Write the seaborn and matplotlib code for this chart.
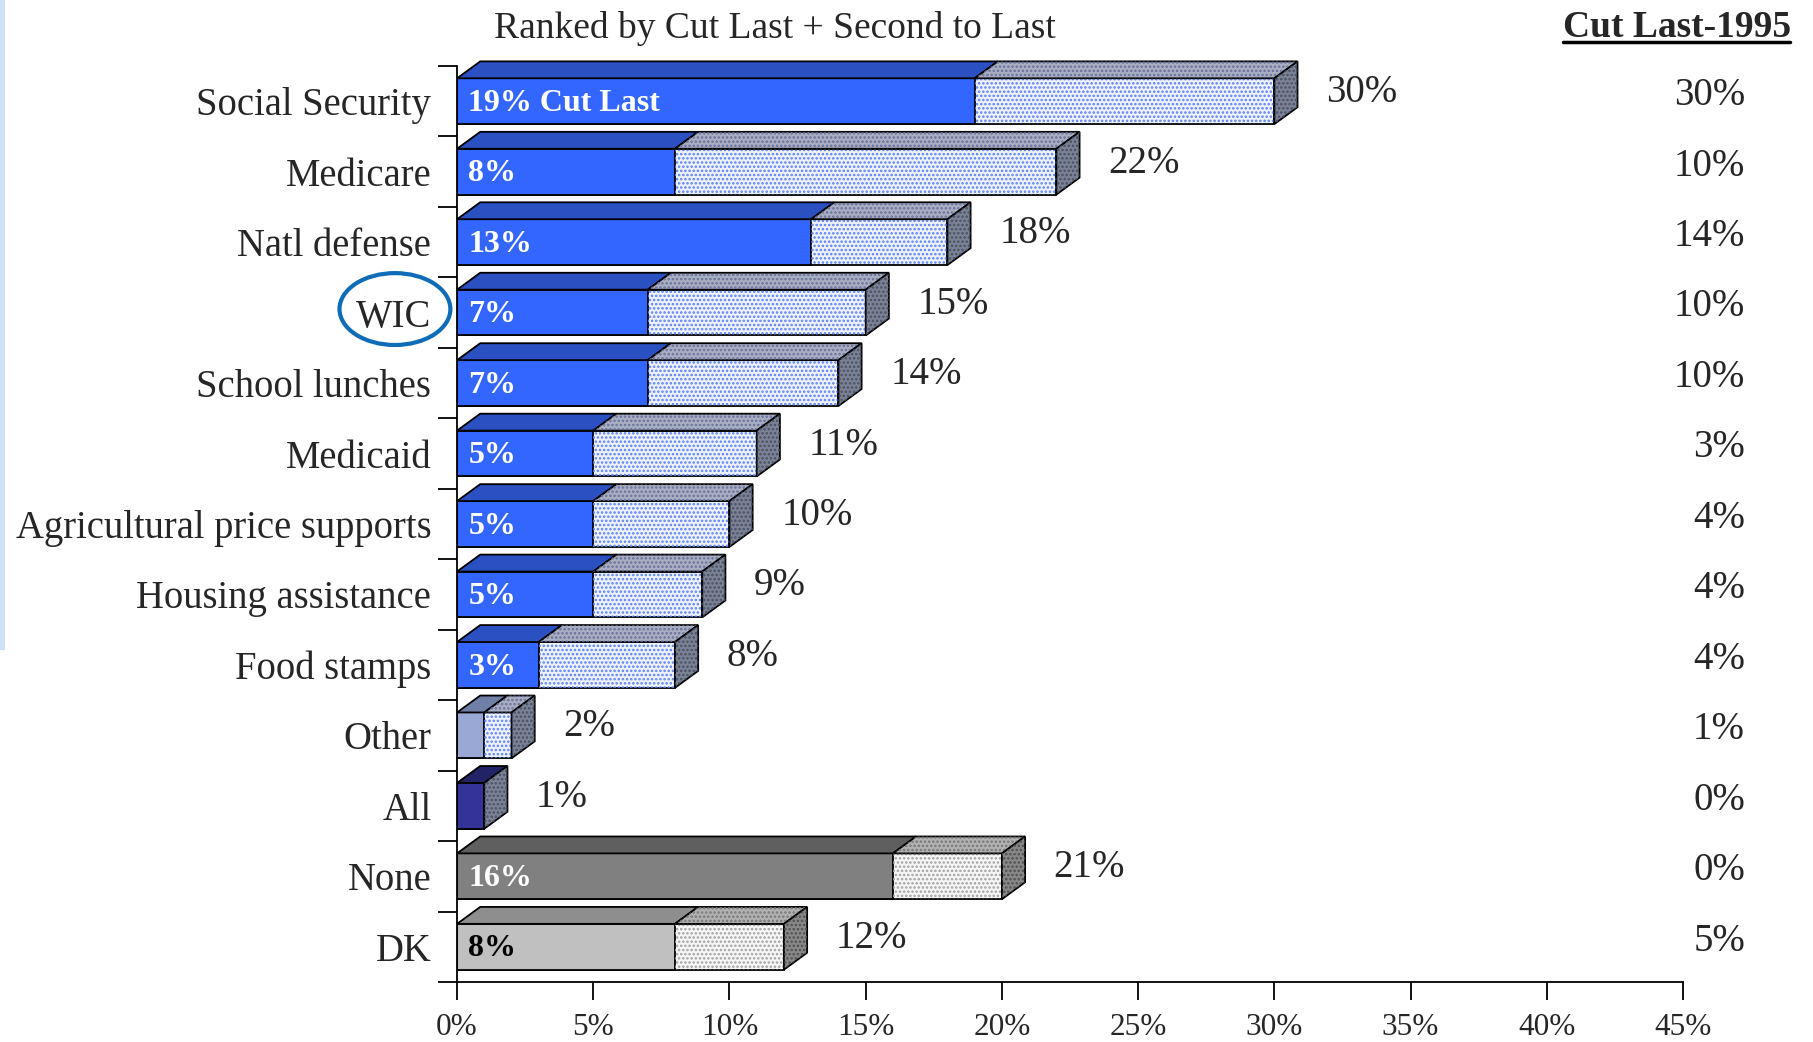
import matplotlib
matplotlib.use('Agg')
import matplotlib.pyplot as plt
import matplotlib.transforms as mtrans
from matplotlib.patches import Polygon, Rectangle, Ellipse
from matplotlib.lines import Line2D
import pandas as pd
import seaborn as sns

# data
categories = ['Social Security', 'Medicare', 'Natl defense', 'WIC', 'School lunches',
              'Medicaid', 'Agricultural price supports', 'Housing assistance',
              'Food stamps', 'Other', 'All', 'None', 'DK']
cut_last = [19, 8, 13, 7, 7, 5, 5, 5, 3, 1, 1, 16, 8]
second_to_last = [11, 14, 5, 8, 7, 6, 5, 4, 5, 1, 0, 4, 4]
total_labels = ['30%', '22%', '18%', '15%', '14%', '11%', '10%', '9%', '8%',
                '2%', '1%', '21%', '12%']
inner_labels = ['19% Cut Last', '8%', '13%', '7%', '7%', '5%', '5%', '5%', '3%',
                '', '', '16%', '8%']
cut_last_1995 = ['30%', '10%', '14%', '10%', '10%', '3%', '4%', '4%', '4%',
                 '1%', '0%', '0%', '5%']
xticks = [0, 5, 10, 15, 20, 25, 30, 35, 40, 45]

# colours per row
blue, blue_top = '#3366ff', '#2a50c2'
front_col = [blue] * 9 + ['#99a8d4', '#333399', '#808080', '#c0c0c0']
top_col = [blue_top] * 9 + ['#6f7fa8', '#222266', '#5f5f5f', '#8e8e8e']
grey_rows = {'None', 'DK'}
label_col = ['white'] * 12 + ['black']

df = pd.DataFrame({'cat': categories, 'cut': cut_last,
                   'total': [a + b for a, b in zip(cut_last, second_to_last)]})

sns.set_style('white')
plt.rcParams['font.family'] = ['Liberation Serif', 'DejaVu Serif']
plt.rcParams['hatch.linewidth'] = 1.2

fig = plt.figure(figsize=(18.13, 10.42), dpi=100)
ax = fig.add_axes([0.2521, 0.0576, 0.6762, 0.8791])

light_pal = {c: ('#f6f6f6' if c in grey_rows else '#eef2ff') for c in categories}
sns.barplot(data=df, y='cat', x='total', hue='cat', palette=light_pal, orient='h',
            width=0.65, saturation=1, edgecolor='black', linewidth=1.3,
            legend=False, ax=ax)
tot_patches = sorted(ax.patches, key=lambda p: p.get_y())
n0 = len(ax.patches)
sns.barplot(data=df, y='cat', x='cut', hue='cat',
            palette=dict(zip(categories, front_col)), orient='h',
            width=0.65, saturation=1, edgecolor='black', linewidth=1.3,
            legend=False, ax=ax)
cut_patches = sorted(ax.patches[n0:], key=lambda p: p.get_y())

dx, dy = 0.85, 0.24


def face(verts, base, dots=None, z=2):
    ax.add_patch(Polygon(verts, closed=True, facecolor=base, edgecolor='black',
                         linewidth=1.3, joinstyle='miter', clip_on=False, zorder=z))
    if dots:
        ax.add_patch(Polygon(verts, closed=True, facecolor='none', edgecolor=dots,
                             linewidth=0, hatch='....', clip_on=False, zorder=z))


for i, (pt, pc) in enumerate(zip(tot_patches, cut_patches)):
    grey = categories[i] in grey_rows
    xc, xt = pc.get_width(), pt.get_width()
    yt, yb = pt.get_y(), pt.get_y() + pt.get_height()
    # dotted front of the second-to-last segment
    if xt > xc:
        ax.add_patch(Rectangle((xc, yt), xt - xc, yb - yt, facecolor='none',
                               edgecolor='#a0a0a0' if grey else '#5a80f0',
                               linewidth=0, hatch='....', zorder=1.5))
    # top faces
    face([(0, yt), (xc, yt), (xc + dx, yt - dy), (dx, yt - dy)], top_col[i])
    if xt > xc:
        face([(xc, yt), (xt, yt), (xt + dx, yt - dy), (xc + dx, yt - dy)],
             '#b2b2b2' if grey else '#a9aec2',
             '#777777' if grey else '#68729a')
    # side face
    face([(xt, yt), (xt, yb), (xt + dx, yb - dy), (xt + dx, yt - dy)],
         '#888888' if grey else '#7a8294',
         '#505050' if grey else '#485066')
    # labels
    if inner_labels[i]:
        ax.text(0.42, i + 0.03, inner_labels[i], color=label_col[i], fontsize=23,
                fontweight='bold', ha='left', va='center', zorder=5)
    ax.text(xt + 1.9, i - 0.12, total_labels[i], fontsize=28, ha='left',
            va='center', clip_on=False)

# right column, 1995 values
tr = mtrans.blended_transform_factory(fig.transFigure, ax.transData)
for i, v in enumerate(cut_last_1995):
    ax.text(0.9625, i - 0.08, v, transform=tr, fontsize=28, ha='right', va='center')

ax.set_xlim(0, 45)
ax.set_ylim(12.5, -0.5)
ax.set_xticks(xticks)
ax.set_xticklabels([f'{t}%' for t in xticks], fontsize=22.5)
ax.set_yticks(range(len(categories)))
ax.set_yticklabels(categories, fontsize=27.8)
ax.set_yticks([i - 0.5 for i in range(len(categories) + 1)], minor=True)
ax.tick_params(axis='y', which='major', length=0, pad=18.5)
ax.tick_params(axis='y', which='minor', length=13.5, width=1.3, color='black',
               direction='out', left=True)
ax.tick_params(axis='x', length=13, width=1.3, color='black', direction='out',
               pad=9, bottom=True)
ax.set_xlabel('')
ax.set_ylabel('')
for s in ['top', 'right']:
    ax.spines[s].set_visible(False)
for s in ['left', 'bottom']:
    ax.spines[s].set_color('black')
    ax.spines[s].set_linewidth(1.3)

# circle round WIC
ax.add_patch(Ellipse((-2.28, 2.95), 4.07, 1.02, fill=False, edgecolor='#0f6cb6',
                     linewidth=3, clip_on=False))

fig.text(0.4275, 0.973, 'Ranked by Cut Last + Second to Last', fontsize=27,
         ha='center', va='center')
fig.text(0.925, 0.974, 'Cut Last-1995', fontsize=27, fontweight='bold',
         ha='center', va='center')
fig.add_artist(Line2D([1563 / 1813, 1790 / 1813], [0.9597, 0.9597], color='black',
                      linewidth=2.5, transform=fig.transFigure))
fig.add_artist(Rectangle((0, 1 - 650 / 1042), 5 / 1813, 650 / 1042,
                         facecolor='#cde2f7', edgecolor='none',
                         transform=fig.transFigure))

fig.savefig('out.png', dpi=100)
